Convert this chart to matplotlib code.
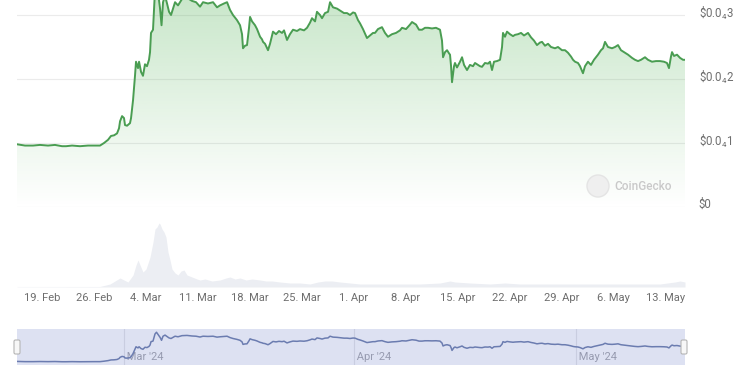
import numpy as np
import matplotlib
matplotlib.use("Agg")
import matplotlib.pyplot as plt
import matplotlib.dates as mdates
from matplotlib.transforms import ScaledTranslation, blended_transform_factory
from matplotlib.patches import Polygon, Circle, FancyBboxPatch

plt.rcParams['font.family'] = ['Roboto', 'DejaVu Sans']
plt.rcParams['mathtext.fontset'] = 'custom'
plt.rcParams['mathtext.rm'] = 'Roboto'
plt.rcParams['mathtext.it'] = 'Roboto'

# ---------------- data (price in units of 0.00001 USD) ----------------
start = np.datetime64('2024-02-15T00:00')
price_days = [0.63, 1.71, 2.79, 3.73, 4.81, 5.75, 6.70, 7.24, 8.05, 9.12, 10.20, 11.15,
              11.82, 12.36, 12.90, 13.30, 13.71, 14.11, 14.38, 14.52, 14.79, 15.05, 15.19,
              15.46, 15.86, 16.00, 16.27, 16.54, 16.67, 16.94, 17.08, 17.35, 17.61, 17.88,
              18.15, 18.42, 18.56, 18.69, 18.96, 19.10, 19.23, 19.43, 19.64, 19.91, 20.11,
              20.31, 20.58, 20.85, 21.12, 21.39, 21.66, 21.93, 22.33, 22.87, 23.54, 24.22,
              24.76, 25.30, 25.70, 26.37, 27.05, 27.59, 27.99, 28.53, 28.94, 29.34, 29.74,
              30.28, 30.69, 30.96, 31.09, 31.36, 31.63, 31.90, 32.04, 32.31, 32.71, 32.98,
              33.39, 33.65, 33.79, 34.06, 34.46, 34.73, 35.13, 35.54, 35.94, 36.35, 36.62,
              37.02, 37.42, 37.83, 38.37, 38.77, 39.31, 39.72, 40.12, 40.39, 40.80, 41.06,
              41.47, 41.74, 42.14, 42.55, 42.82, 43.22, 43.76, 44.16, 44.70, 45.11, 45.51,
              45.92, 46.19, 46.59, 46.86, 47.26, 47.80, 48.21, 48.61, 48.88, 49.28, 49.82,
              50.23, 50.63, 51.17, 51.71, 52.25, 52.52, 53.06, 53.60, 53.87, 54.41, 54.81,
              55.22, 55.62, 56.03, 56.56, 57.10, 57.64, 57.91, 58.05, 58.32, 58.59, 58.86,
              58.99, 59.13, 59.26, 59.53, 59.66, 59.93, 60.34, 60.61, 60.88, 61.28, 61.68,
              62.09, 62.36, 62.76, 63.03, 63.30, 63.70, 64.11, 64.38, 64.65, 64.92, 65.32,
              65.73, 66.00, 66.13, 66.40, 66.67, 67.07, 67.48, 67.75, 68.15, 68.56, 68.96,
              69.50, 69.91, 70.31, 70.71, 71.12, 71.39, 71.79, 72.20, 72.60, 73.14, 73.54,
              74.08, 74.49, 74.89, 75.30, 75.57, 75.84, 76.24, 76.51, 76.91, 77.18, 77.58,
              77.99, 78.39, 78.93, 79.34, 79.61, 79.88, 80.28, 80.82, 81.23, 81.63, 82.03,
              82.57, 82.98, 83.52, 83.92, 84.33, 84.73, 85.27, 85.67, 86.21, 86.75, 87.29,
              87.83, 88.23, 88.50, 88.77, 88.91, 89.18, 89.58, 89.99, 90.39, 90.66]
price = [0.98, 0.96, 0.96, 0.97, 0.96, 0.97, 0.95, 0.95, 0.96, 0.95, 0.96, 0.96,
         0.96, 1.00, 1.05, 1.11, 1.12, 1.15, 1.23, 1.34, 1.42, 1.39, 1.28, 1.27,
         1.31, 1.39, 1.67, 2.06, 2.27, 2.17, 2.27, 2.11, 2.05, 2.23, 2.20, 2.30,
         2.42, 2.72, 2.77, 3.08, 3.40, 3.55, 3.35, 3.10, 2.84, 3.20, 3.30, 3.18,
         3.05, 3.00, 3.10, 3.20, 3.15, 3.25, 3.27, 3.22, 3.20, 3.13, 3.20, 3.18,
         3.20, 3.12, 3.15, 3.18, 3.20, 3.08, 3.00, 2.92, 2.84, 2.70, 2.48, 2.52,
         2.53, 2.80, 2.97, 2.90, 2.84, 2.78, 2.66, 2.62, 2.58, 2.55, 2.45, 2.55,
         2.74, 2.70, 2.75, 2.72, 2.76, 2.61, 2.70, 2.77, 2.75, 2.78, 2.76, 2.80,
         2.88, 2.95, 2.90, 3.05, 3.00, 2.95, 3.03, 3.05, 3.20, 3.12, 3.10, 3.07,
         3.03, 3.03, 3.00, 3.04, 3.03, 2.92, 2.87, 2.78, 2.64, 2.68, 2.72, 2.72,
         2.78, 2.81, 2.72, 2.66, 2.70, 2.72, 2.76, 2.80, 2.78, 2.85, 2.89, 2.85,
         2.77, 2.77, 2.80, 2.80, 2.79, 2.80, 2.77, 2.60, 2.34, 2.42, 2.45, 2.40,
         2.38, 2.20, 1.95, 2.20, 2.25, 2.18, 2.27, 2.34, 2.22, 2.14, 2.22, 2.20,
         2.25, 2.22, 2.20, 2.19, 2.25, 2.24, 2.27, 2.14, 2.27, 2.28, 2.30, 2.50,
         2.72, 2.66, 2.74, 2.70, 2.67, 2.69, 2.70, 2.72, 2.68, 2.72, 2.65, 2.60,
         2.53, 2.57, 2.58, 2.52, 2.55, 2.50, 2.48, 2.50, 2.45, 2.45, 2.41, 2.35,
         2.30, 2.27, 2.25, 2.20, 2.09, 2.20, 2.27, 2.22, 2.30, 2.38, 2.45, 2.48,
         2.58, 2.50, 2.48, 2.50, 2.53, 2.45, 2.41, 2.38, 2.33, 2.30, 2.28, 2.30,
         2.34, 2.30, 2.27, 2.28, 2.28, 2.27, 2.25, 2.17, 2.35, 2.42, 2.36, 2.38,
         2.33, 2.30, 2.30]

volume_days = [0.63, 6.43, 11.82, 13.17, 13.84, 14.52, 15.05, 15.59, 16.27, 16.67, 16.94,
               17.21, 17.61, 18.02, 18.56, 18.96, 19.23, 19.50, 19.77, 19.91, 20.18, 20.44,
               20.71, 20.98, 21.25, 21.52, 21.93, 22.33, 22.74, 23.14, 23.54, 24.22, 24.89,
               25.30, 25.97, 26.91, 27.99, 28.80, 29.34, 30.01, 30.69, 31.50, 32.31, 33.39,
               34.19, 35.00, 36.08, 37.42, 38.77, 40.12, 41.20, 42.14, 43.09, 44.16, 45.51,
               46.86, 49.55, 52.25, 54.95, 57.64, 58.99, 59.66, 61.68, 64.38, 66.40, 68.42,
               71.12, 73.81, 76.51, 79.20, 81.90, 84.60, 87.29, 89.31, 89.99, 90.66]
volume = [0.3, 0.4, 0.5, 3, 6, 9, 7, 5, 12, 22, 27,
          22, 15, 18, 30, 45, 58, 60, 64, 63, 58, 55,
          50, 35, 27, 18, 14, 12, 16, 17, 12, 10, 8,
          7, 8, 6, 7, 9, 10, 8, 9, 7, 8, 7,
          6, 6, 5, 4, 4, 3, 5, 6, 6, 5, 4,
          3, 3, 3, 3, 4, 6, 5, 4, 3, 4, 3,
          3, 3, 3, 3, 3, 3, 3, 5, 6, 5]

ytick_values = [0, 1, 2, 3]
ytick_labels = [r'\$0', r'\$0.0$\mathregular{_4}$1', r'\$0.0$\mathregular{_4}$2',
                r'\$0.0$\mathregular{_4}$3']
xtick_dates = ['2024-02-19', '2024-02-26', '2024-03-04', '2024-03-11', '2024-03-18',
               '2024-03-25', '2024-04-01', '2024-04-08', '2024-04-15', '2024-04-22',
               '2024-04-29', '2024-05-06', '2024-05-13']
xtick_labels = ['19. Feb', '26. Feb', '4. Mar', '11. Mar', '18. Mar', '25. Mar', '1. Apr',
                '8. Apr', '15. Apr', '22. Apr', '29. Apr', '6. May', '13. May']
nav_month_dates = ['2024-03-01', '2024-04-01', '2024-05-01']
nav_month_labels = ["Mar '24", "Apr '24", "May '24"]

# ---------------- helpers ----------------
def to_dates(days):
    return mdates.date2num(start + (np.array(days) * 24 * 60).astype('timedelta64[m]'))

px = to_dates(price_days)
py = np.array(price)
vx = to_dates(volume_days)
vy = np.array(volume)
xt = mdates.date2num(np.array(xtick_dates, dtype='datetime64[m]'))
mt = mdates.date2num(np.array(nav_month_dates, dtype='datetime64[m]'))

W, H = 750, 375
fig = plt.figure(figsize=(7.5, 3.75), dpi=100)
fig.patch.set_facecolor('white')

def rect(x0, y0, x1, y1):
    return [x0 / W, 1 - y1 / H, (x1 - x0) / W, (y1 - y0) / H]

LINE = '#4a9d52'
TXT = '#6e6e6e'
GRID = '#ebebeb'

# ---------------- price axes ----------------
ax = fig.add_axes(rect(17, 0, 685, 207))
ax.set_xlim(px[0], px[-1])
ax.set_ylim(0, 207 / 64)
for s in ax.spines.values():
    s.set_visible(False)
ax.set_yticks(ytick_values)
ax.yaxis.tick_right()
ax.set_yticklabels(ytick_labels)
ax.tick_params(axis='y', length=0, pad=10, labelsize=8.3, labelcolor=TXT)
off = ScaledTranslation(0, 4 / 100, fig.dpi_scale_trans)
for lab in ax.get_yticklabels():
    lab.set_transform(lab.get_transform() + off)
ax.set_xticks([])
ax.grid(axis='y', color=GRID, lw=0.8)
ax.set_axisbelow(True)

# gradient fill under line
poly_xy = np.column_stack([np.r_[px[0], px, px[-1]], np.r_[0, py, 0]])
poly = Polygon(poly_xy, closed=True, facecolor='none', edgecolor='none')
ax.add_patch(poly)
grad = np.linspace(0, 1, 256)
rgba = np.zeros((256, 1, 4))
rgba[..., 0] = 0x4c / 255
rgba[..., 1] = 0xaf / 255
rgba[..., 2] = 0x50 / 255
rgba[:, 0, 3] = 0.30 * grad
im = ax.imshow(rgba, extent=[px[0], px[-1], 0, 207 / 64], aspect='auto', origin='lower',
               zorder=1, interpolation='bilinear')
im.set_clip_path(poly)
ax.plot(px, py, color=LINE, lw=1.4, zorder=3, solid_joinstyle='round')

# watermark
fig.patches.append(Circle((598, H - 186), 11, transform=None, facecolor='#efefef',
                          edgecolor='#e4e4e4', lw=1, zorder=5))
fig.text(614 / W, 1 - 186 / H, 'CoinGecko', fontsize=8.5, color='#c9c9c9',
         ha='left', va='center', fontweight='medium')

# ---------------- volume axes ----------------
av = fig.add_axes(rect(17, 210, 685, 287))
av.set_xlim(px[0], px[-1])
av.set_ylim(0, 77)
for s in av.spines.values():
    s.set_visible(False)
av.set_yticks([])
av.fill_between(vx, 0, vy, color='#eceef3', lw=0)
av.set_xticks(xt)
av.set_xticklabels(xtick_labels)
av.tick_params(axis='x', length=0, pad=4, labelsize=8, labelcolor=TXT)
av.axhline(0, color='#eeeeee', lw=0.8)

# ---------------- navigator ----------------
an = fig.add_axes(rect(17, 329, 685, 365))
an.set_xlim(px[0], px[-1])
lo, hi = py.min(), py.max()
pad = (hi - lo) * 0.11
an.set_ylim(lo - pad, hi + pad)
an.set_facecolor('#dde1f2')
for s in an.spines.values():
    s.set_visible(False)
an.set_xticks([])
an.set_yticks([])
for m, lab in zip(mt, nav_month_labels):
    an.axvline(m, color='#c9cde0', lw=0.8, zorder=1)
    an.text(m, 0.22, ' ' + lab, transform=blended_transform_factory(an.transData, an.transAxes),
            fontsize=8, color='#979bb0', ha='left', va='center', zorder=2)
an.plot(px, py, color='#6b7cb0', lw=1.1, zorder=3)

for hx in (17, 684):
    fig.patches.append(FancyBboxPatch((hx - 3, H - 354), 6, 14,
                                      boxstyle='round,pad=0,rounding_size=1.5',
                                      transform=None, facecolor='#f7f7f7', edgecolor='#b5b5b5',
                                      lw=0.8, zorder=6))

fig.savefig('out.png', dpi=100)
